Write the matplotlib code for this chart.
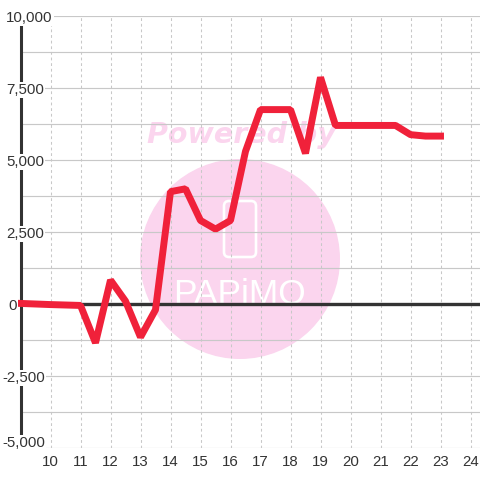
import matplotlib
matplotlib.use("Agg")
import matplotlib.pyplot as plt
from matplotlib.patches import Circle, FancyBboxPatch

x_values = [9, 10, 11, 11.5, 12, 12.5, 13, 13.5, 14, 14.5, 15, 15.5, 16, 16.5, 17, 17.5, 18, 18.5, 19, 19.5, 20, 20.5, 21, 21.5, 22, 22.5, 23]
y_values = [20, -20, -50, -1350, 830, 100, -1150, -200, 3900, 4000, 2900, 2600, 2900, 5300, 6750, 6750, 6750, 5230, 7870, 6200, 6200, 6200, 6200, 6200, 5880, 5830, 5830]
x_ticks = list(range(10, 25))
y_major = [-5000, -2500, 0, 2500, 5000, 7500, 10000]
y_minor = [-3750, -1250, 1250, 3750, 6250, 8750]
y_labels = ["-5,000", "-2,500", "0", "2,500", "5,000", "7,500", "10,000"]
y_label_left = [2, 2, 8, 6, 6, 6, 6]
y_label_base = [447, 382, 309.5, 238, 166, 94, 21.5]

W = 480
plt.rcParams["font.family"] = "Liberation Sans"
fig = plt.figure(figsize=(4.8, 4.8), dpi=100, facecolor="white")
ax = fig.add_axes([20.5 / W, (W - 448) / W, (W - 20.5) / W, 432 / W])
ax.set_xlim(9, 9 + (W - 20.5) / 30)
ax.set_ylim(-5000, 10000)
for s in ax.spines.values():
    s.set_visible(False)
ax.patch.set_alpha(0)

ov = fig.add_axes([0, 0, 1, 1], zorder=-1)
ov.set_xlim(0, W); ov.set_ylim(W, 0); ov.axis("off")
ov.add_patch(Circle((240, 259), 100, fc="#fbd5ee", ec="none"))
ov.add_patch(FancyBboxPatch((224, 201), 32, 56, boxstyle="round,pad=0,rounding_size=5", fc="none", ec="white", lw=1.9))
ov.text(240, 304, "PAPiMO", color="white", ha="center", va="baseline", fontsize=25.5)
ov.text(241.5, 143, "Powered by", color="#fbd5ee", ha="center", va="baseline", fontsize=20.5,
        family="DejaVu Sans", fontweight="bold", style="italic")

ax.set_xticks(x_ticks)
ax.set_yticks(y_major + y_minor)
ax.tick_params(length=0, labelleft=False, labelsize=10.8, labelcolor="#333333", pad=5)
ax.grid(axis="y", color="#c8c8c8", lw=0.85, zorder=1)
ax.grid(axis="x", color="#c8c8c8", lw=0.75, ls=(0, (2.7, 2.7)), zorder=1)
ax.set_axisbelow(True)

ax.plot([9, 9], [-4650, 9725], color="#333333", lw=2.2, solid_capstyle="butt", zorder=2, clip_on=False)
ax.axhline(0, color="#333333", lw=2.4, zorder=3)
ax.plot(x_values, y_values, color="#f0213a", lw=5, solid_joinstyle="bevel", solid_capstyle="projecting", zorder=4, clip_on=False)

for lab, left, base in zip(y_labels, y_label_left, y_label_base):
    ax.annotate(lab, xy=(left, W - base), xycoords="figure pixels", ha="left", va="baseline", fontsize=10.8,
                color="#333333", zorder=5, annotation_clip=False,
                bbox=dict(fc="white", ec="none", pad=1.0))

fig.savefig("out.png", dpi=100)
